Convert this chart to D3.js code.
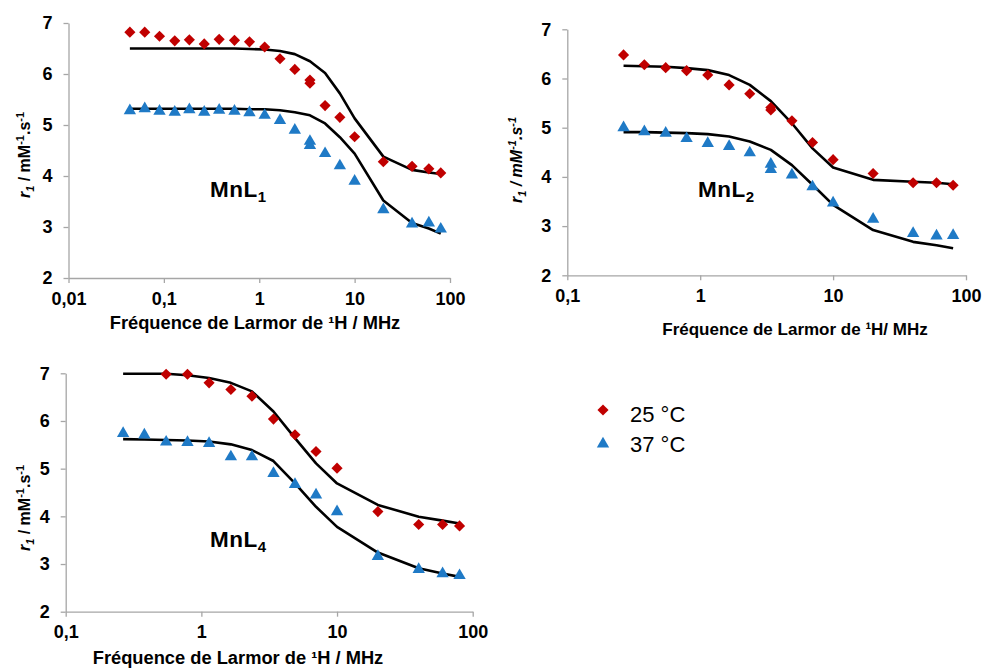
<!DOCTYPE html>
<html><head><meta charset="utf-8">
<script src="https://cdn.jsdelivr.net/npm/d3@7"></script>
<style>
html,body{margin:0;padding:0;background:#fff;}
svg{display:block;font-family:"Liberation Sans",Arial,sans-serif;}
</style></head>
<body><svg id="c" width="982" height="669"></svg>
<script>
// ---------- DATA ----------
const yTicks = [2, 3, 4, 5, 6, 7];
const xTicks1 = [0.01, 0.1, 1, 10, 100];
const xTicks23 = [0.1, 1, 10, 100];
const seriesNames = ["25 °C", "37 °C"];

// MnL1
const mnl1Freq = [0.044, 0.063, 0.09, 0.13, 0.185, 0.265, 0.38, 0.55, 0.79, 1.14, 1.65, 2.36, 3.4, 3.4, 4.9, 7.0, 10, 20, 40, 60, 80];
const mnl1R25 = [6.82, 6.82, 6.74, 6.65, 6.67, 6.59, 6.68, 6.66, 6.63, 6.53, 6.30, 6.09, 5.88, 5.82, 5.38, 5.15, 4.77, 4.28, 4.19, 4.14, 4.06];
const mnl1R37 = [5.30, 5.34, 5.29, 5.27, 5.32, 5.27, 5.31, 5.29, 5.26, 5.21, 5.11, 4.92, 4.70, 4.62, 4.46, 4.22, 3.92, 3.36, 3.08, 3.10, 2.98];
const mnl1FitFreq = [0.044, 0.063, 0.09, 0.13, 0.185, 0.265, 0.38, 0.55, 0.79, 1.14, 1.65, 2.36, 3.4, 4.9, 7.0, 10, 20, 40, 60, 80];
const mnl1Fit25 = [6.50, 6.50, 6.50, 6.50, 6.50, 6.50, 6.50, 6.50, 6.49, 6.48, 6.45, 6.39, 6.25, 6.02, 5.62, 5.13, 4.38, 4.12, 4.07, 4.04];
const mnl1Fit37 = [5.32, 5.32, 5.32, 5.32, 5.32, 5.32, 5.32, 5.32, 5.31, 5.31, 5.29, 5.25, 5.19, 5.03, 4.76, 4.44, 3.52, 3.08, 2.97, 2.87];

// MnL2
const mnl2Freq = [0.265, 0.38, 0.55, 0.79, 1.14, 1.65, 2.36, 3.4, 3.4, 4.9, 7.0, 10, 20, 40, 60, 80];
const mnl2R25 = [6.48, 6.28, 6.22, 6.16, 6.07, 5.87, 5.69, 5.41, 5.36, 5.14, 4.70, 4.35, 4.07, 3.88, 3.88, 3.83];
const mnl2R37 = [5.02, 4.94, 4.91, 4.80, 4.70, 4.64, 4.51, 4.28, 4.17, 4.06, 3.82, 3.49, 3.16, 2.87, 2.82, 2.83];
const mnl2FitFreq = [0.265, 0.38, 0.55, 0.79, 1.14, 1.65, 2.36, 3.4, 4.9, 7.0, 10, 20, 40, 60, 80];
const mnl2Fit25 = [6.26, 6.25, 6.24, 6.21, 6.17, 6.07, 5.87, 5.54, 5.09, 4.58, 4.19, 3.94, 3.90, 3.88, 3.85];
const mnl2Fit37 = [4.91, 4.91, 4.90, 4.89, 4.87, 4.82, 4.72, 4.55, 4.24, 3.84, 3.43, 2.92, 2.68, 2.61, 2.55];

// MnL4
const mnl4Freq25 = [0.55, 0.79, 1.14, 1.65, 2.36, 3.4, 4.9, 7.0, 10, 20, 40, 60, 80];
const mnl4R25 = [6.98, 6.98, 6.80, 6.66, 6.52, 6.04, 5.71, 5.36, 5.01, 4.10, 3.83, 3.83, 3.80];
const mnl4Freq37 = [0.265, 0.38, 0.55, 0.79, 1.14, 1.65, 2.36, 3.4, 4.9, 7.0, 10, 20, 40, 60, 80];
const mnl4R37 = [5.76, 5.73, 5.58, 5.57, 5.55, 5.27, 5.27, 4.92, 4.69, 4.47, 4.12, 3.18, 2.91, 2.82, 2.78];
const mnl4FitFreq = [0.265, 0.38, 0.55, 0.79, 1.14, 1.65, 2.36, 3.4, 4.9, 7.0, 10, 20, 40, 60, 80];
const mnl4Fit25 = [6.99, 6.99, 6.99, 6.96, 6.90, 6.80, 6.62, 6.20, 5.64, 5.11, 4.69, 4.24, 3.99, 3.91, 3.85];
const mnl4Fit37 = [5.62, 5.61, 5.60, 5.59, 5.57, 5.51, 5.39, 5.16, 4.69, 4.20, 3.78, 3.24, 2.91, 2.80, 2.73];

// ---------- STYLE ----------
const RED = "#c00000", BLUE = "#1f7ac6", AXIS = "#a6a6a6";
const svg = d3.select("#c");
const zip = (a, b) => a.map((v, i) => [v, b[i]]);
const diamond = d3.symbol().type(d3.symbolSquare).size(62);
const triangle = d3.symbol().type(d3.symbolTriangle).size(66);

function drawPanel(cfg) {
  const x = d3.scaleLog().domain(cfg.xDomain).range(cfg.xRange);
  const y = d3.scaleLinear().domain([2, 7]).range(cfg.yRange);
  const g = svg.append("g");

  const ya = g.append("g").attr("transform", `translate(${cfg.xRange[0]},0)`)
    .call(d3.axisLeft(y).tickValues(yTicks).tickSize(5).tickSizeOuter(0).tickPadding(11).tickFormat(d3.format("d")));
  const xa = g.append("g").attr("transform", `translate(0,${cfg.yRange[0]})`)
    .call(d3.axisBottom(x).tickValues(cfg.xTicks).tickSize(5).tickSizeOuter(0).tickPadding(9)
      .tickFormat(d => String(d).replace(".", ",")));
  [ya, xa].forEach(a => {
    a.select(".domain").attr("stroke", AXIS).attr("stroke-width", 1.3);
    a.selectAll(".tick line").attr("stroke", AXIS).attr("stroke-width", 1.3);
    a.selectAll(".tick text").attr("fill", "#000").attr("font-size", 18).attr("font-weight", "bold")
      .attr("font-family", '"Liberation Sans",Arial,sans-serif');
  });

  const line = d3.line().x(d => x(d[0])).y(d => y(d[1])).curve(d3.curveLinear);
  [cfg.fit25, cfg.fit37].forEach(f => {
    g.append("path").datum(zip(cfg.fitFreq, f)).attr("d", line)
      .attr("fill", "none").attr("stroke", "#000").attr("stroke-width", 2.6).attr("stroke-linejoin", "round");
  });

  g.selectAll(".d").data(zip(cfg.f25, cfg.r25)).enter().append("path")
    .attr("d", diamond).attr("fill", RED)
    .attr("transform", d => `translate(${x(d[0])},${y(d[1])}) rotate(45)`);
  g.selectAll(".t").data(zip(cfg.f37, cfg.r37)).enter().append("path")
    .attr("d", triangle).attr("fill", BLUE)
    .attr("transform", d => `translate(${x(d[0])},${y(d[1]) + 1})`);

  // x title
  g.append("text").attr("x", cfg.xTitle[0]).attr("y", cfg.xTitle[1]).attr("text-anchor", "middle")
    .attr("font-size", cfg.xTitleSize).attr("font-weight", "bold").text(cfg.xTitleText);

  // y title
  const yt = g.append("text").attr("transform", `translate(${cfg.yTitle[0]},${cfg.yTitle[1]}) rotate(-90)`)
    .attr("text-anchor", "middle").attr("font-size", 16).attr("font-weight", "bold");
  const it = cfg.allItalic ? "italic" : "normal";
  yt.append("tspan").attr("font-style", "italic").text("r");
  yt.append("tspan").attr("font-style", "italic").attr("font-size", 11).attr("dy", 4).text("1");
  yt.append("tspan").attr("font-style", it).attr("dy", -4).text(" / mM");
  yt.append("tspan").attr("font-style", it).attr("font-size", 11).attr("dy", -6).text("-1");
  yt.append("tspan").attr("font-style", it).attr("dy", 6).text(".s");
  yt.append("tspan").attr("font-style", it).attr("font-size", 11).attr("dy", -6).text("-1");

  // compound label
  const lab = g.append("text").attr("x", cfg.label[0]).attr("y", cfg.label[1])
    .attr("font-size", 22.5).attr("font-weight", "bold").attr("letter-spacing", 0.5);
  lab.append("tspan").text("MnL");
  lab.append("tspan").attr("font-size", 15).attr("dy", 5).text(cfg.labelSub);
}

drawPanel({
  xDomain: [0.01, 100], xRange: [68.5, 450], yRange: [278, 23], xTicks: xTicks1,
  f25: mnl1Freq, r25: mnl1R25, f37: mnl1Freq, r37: mnl1R37,
  fitFreq: mnl1FitFreq, fit25: mnl1Fit25, fit37: mnl1Fit37,
  xTitle: [255, 329], xTitleText: "Fréquence de Larmor de ¹H / MHz", xTitleSize: 18.3,
  yTitle: [30, 155], allItalic: false, label: [210, 197], labelSub: "1"
});
drawPanel({
  xDomain: [0.1, 100], xRange: [567.3, 966], yRange: [275.3, 29.3], xTicks: xTicks23,
  f25: mnl2Freq, r25: mnl2R25, f37: mnl2Freq, r37: mnl2R37,
  fitFreq: mnl2FitFreq, fit25: mnl2Fit25, fit37: mnl2Fit37,
  xTitle: [795, 335], xTitleText: "Fréquence de Larmor de ¹H/ MHz", xTitleSize: 17,
  yTitle: [522, 160], allItalic: true, label: [698, 197], labelSub: "2"
});
drawPanel({
  xDomain: [0.1, 100], xRange: [65.7, 472.7], yRange: [611.7, 373.3], xTicks: xTicks23,
  f25: mnl4Freq25, r25: mnl4R25, f37: mnl4Freq37, r37: mnl4R37,
  fitFreq: mnl4FitFreq, fit25: mnl4Fit25, fit37: mnl4Fit37,
  xTitle: [238, 664], xTitleText: "Fréquence de Larmor de ¹H / MHz", xTitleSize: 18.3,
  yTitle: [30, 508], allItalic: false, label: [210, 547], labelSub: "4"
});

// legend
const leg = svg.append("g");
leg.append("path").attr("d", diamond).attr("fill", RED).attr("transform", "translate(603,410) rotate(45)");
leg.append("path").attr("d", triangle).attr("fill", BLUE).attr("transform", "translate(603,444)");
leg.append("text").attr("x", 630).attr("y", 422).attr("font-size", 22).text(seriesNames[0]);
leg.append("text").attr("x", 630).attr("y", 452).attr("font-size", 22).text(seriesNames[1]);
</script></body></html>
